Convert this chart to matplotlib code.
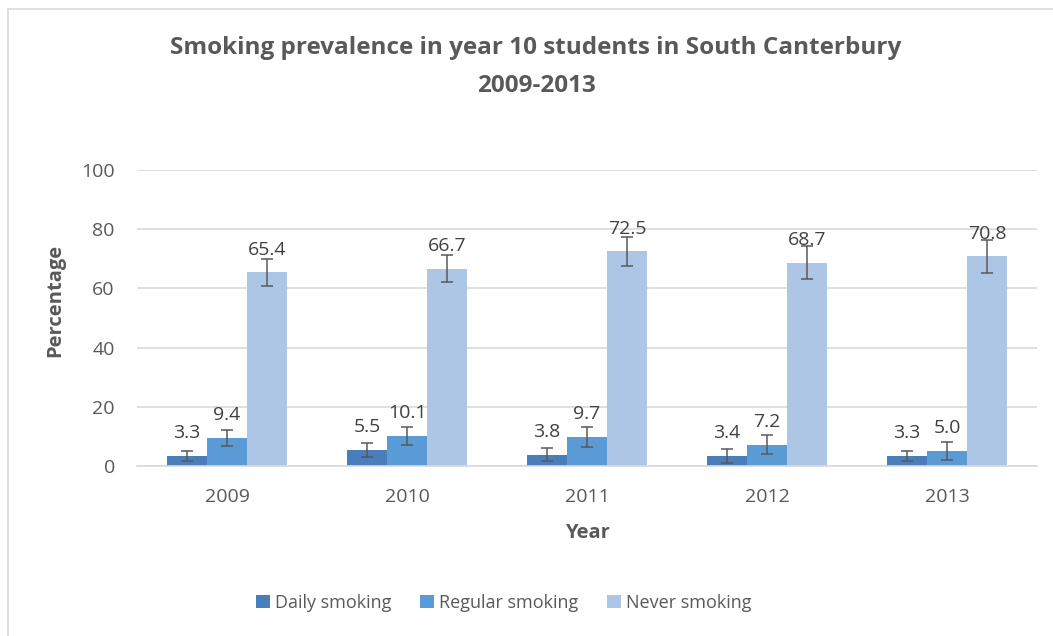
# smoking_chart.py
# Year 10 smoking prevalence, South Canterbury 2009-2013

import numpy as np
import matplotlib
matplotlib.use("Agg")
import matplotlib.pyplot as plt
from matplotlib.patches import Rectangle


# ==============================
# DATA
# ==============================

years = ["2009", "2010", "2011", "2012", "2013"]
series_names = ["Daily smoking", "Regular smoking", "Never smoking"]

daily = [3.3, 5.5, 3.8, 3.4, 3.3]
regular = [9.4, 10.1, 9.7, 7.2, 5.0]
never = [65.4, 66.7, 72.5, 68.7, 70.8]

# half-width of the error bars
daily_err = [1.7, 2.3, 2.2, 2.3, 1.6]
regular_err = [2.8, 3.0, 3.4, 3.3, 3.0]
never_err = [4.5, 4.5, 4.9, 5.5, 5.7]

colors = ["#4A7EBB", "#5B9BD5", "#ADC6E6"]
TEXT = "#595959"


# ==============================
# FIGURE
# ==============================

plt.rcParams["font.family"] = ["Open Sans", "DejaVu Sans"]

W, H = 1053, 636
fig = plt.figure(figsize=(W / 100, H / 100), dpi=100)

# chart frame like the spreadsheet chart area
fig.patches.append(Rectangle((8 / W, -0.1), 1.2, 1.1 - 9 / H,
                             transform=fig.transFigure, fill=False,
                             edgecolor="#D9D9D9", linewidth=1.2))

ax = fig.add_axes([137 / W, 1 - 466 / H, 900 / W, (466 - 170) / H])

x = np.arange(len(years))
bw = 0.222
groups = [(daily, daily_err), (regular, regular_err), (never, never_err)]

for i, (vals, errs) in enumerate(groups):
    pos = x + (i - 1) * bw
    ax.bar(pos, vals, width=bw, color=colors[i], label=series_names[i],
           zorder=2)
    ax.errorbar(pos, vals, yerr=errs, fmt="none", ecolor=TEXT,
                elinewidth=1.1, capsize=4.5, capthick=1.1, zorder=3)
    for px, v in zip(pos, vals):
        ax.annotate(f"{v:.1f}", (px, v), xytext=(0, 10),
                    textcoords="offset points", ha="center", va="bottom",
                    fontsize=14, color="#404040", zorder=4)

ax.set_ylim(0, 100)
ax.set_xlim(-0.5, len(years) - 0.5)
ax.set_yticks(range(0, 101, 20))
ax.set_xticks(x)
ax.set_xticklabels(years)

ax.yaxis.grid(True, color="#D9D9D9", linewidth=1.2, zorder=0)
ax.set_axisbelow(True)
for s in ["top", "right", "left"]:
    ax.spines[s].set_visible(False)
ax.spines["bottom"].set_color("#D9D9D9")
ax.spines["bottom"].set_linewidth(1.2)

ax.tick_params(axis="y", length=0, pad=16, labelsize=14, labelcolor=TEXT)
ax.tick_params(axis="x", length=0, pad=16, labelsize=14, labelcolor=TEXT)

# titles and axis names
fig.text(536 / W, 1 - 48 / H,
         "Smoking prevalence in year 10 students in South Canterbury",
         ha="center", va="center", fontsize=17.5, fontweight="bold", color=TEXT)
fig.text(536 / W, 1 - 86 / H, "2009-2013",
         ha="center", va="center", fontsize=17.5, fontweight="bold", color=TEXT)
fig.text(55 / W, 1 - 300 / H, "Percentage", rotation=90,
         ha="center", va="center", fontsize=14.5, fontweight="bold", color=TEXT)
fig.text(587 / W, 1 - 533 / H, "Year",
         ha="center", va="center", fontsize=14.5, fontweight="bold", color=TEXT)

leg = fig.legend(loc="center", bbox_to_anchor=(504 / W, 1 - 603 / H),
                 ncol=3, frameon=False, fontsize=13, handlelength=0.75,
                 handleheight=0.75, handletextpad=0.3, columnspacing=1.6)
for t in leg.get_texts():
    t.set_color(TEXT)

fig.savefig("out.png", dpi=100)
plt.close(fig)
